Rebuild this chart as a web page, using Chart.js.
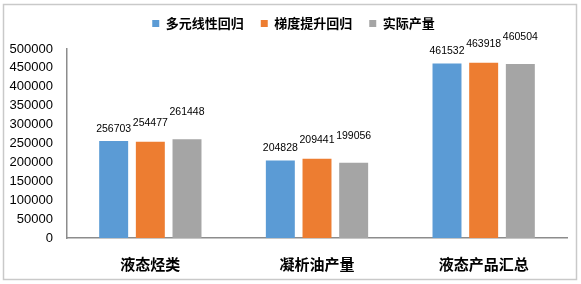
<!DOCTYPE html>
<html>
<head>
<meta charset="utf-8">
<script src="https://cdn.jsdelivr.net/npm/chart.js@4/dist/chart.umd.min.js"></script>
<style>
  html, body { margin: 0; padding: 0; background: #fff; }
  #wrap { width: 581px; height: 284px; }
</style>
</head>
<body>
<div id="wrap"><canvas id="prodChart" width="581" height="284"></canvas></div>
<script>
// chart data
const categories = ['液态烃类', '凝析油产量', '液态产品汇总'];
const seriesNames = ['多元线性回归', '梯度提升回归', '实际产量'];
const mlrValues = [256703, 204828, 461532];
const gbrValues = [254477, 209441, 463918];
const actualValues = [261448, 199056, 460504];
const yTicks = [0, 50000, 100000, 150000, 200000, 250000, 300000, 350000, 400000, 450000, 500000];

const colors = ['#5B9BD5', '#ED7D31', '#A5A5A5'];
const cjkFont = '"Noto Sans CJK SC", "Noto Sans", sans-serif';
const numFont = '"Liberation Sans", Arial, sans-serif';

// grey frame round the whole chart
const framePlugin = {
    id: 'frame',
    beforeDraw(chart) {
        const c = chart.ctx;
        c.save();
        c.fillStyle = '#fff';
        c.fillRect(0, 0, chart.width, chart.height);
        c.strokeStyle = '#c9c9c9';
        c.lineWidth = 1.5;
        c.strokeRect(3.5, 4.5, 573, 275);
        c.restore();
    }
};

// extra space under the legend, and legend nudged right a little
const legendTweak = {
    id: 'legendTweak',
    beforeInit(chart) {
        const origFit = chart.legend.fit;
        chart.legend.fit = function () {
            origFit.bind(chart.legend)();
            this.height += 9;
        };
    },
    afterLayout(chart) {
        chart.legend.left += 10;
        chart.legend.right += 10;
    }
};

// value labels above each bar (each series lifted a bit more, like the original)
const valueLabels = {
    id: 'valueLabels',
    afterDatasetsDraw(chart, args, opts) {
        const c = chart.ctx;
        c.save();
        c.font = '10.5px ' + numFont;
        c.fillStyle = '#000';
        c.textAlign = 'center';
        c.textBaseline = 'middle';
        chart.data.datasets.forEach((ds, di) => {
            const meta = chart.getDatasetMeta(di);
            meta.data.forEach((bar, i) => {
                c.fillText(String(ds.data[i]), bar.x, bar.y - opts.lifts[di]);
            });
        });
        c.restore();
    }
};

const ctx = document.getElementById('prodChart').getContext('2d');
const prodChart = new Chart(ctx, {
    type: 'bar',
    data: {
        labels: categories,
        datasets: [mlrValues, gbrValues, actualValues].map((vals, i) => ({
            label: seriesNames[i],
            data: vals,
            backgroundColor: colors[i],
            borderWidth: 0,
            categoryPercentage: 0.66,
            barPercentage: 0.79
        }))
    },
    options: {
        responsive: false,
        animation: false,
        layout: { padding: { top: 0, left: 0, right: 14, bottom: 0 } },
        plugins: {
            legend: {
                position: 'top',
                labels: {
                    boxWidth: 7,
                    boxHeight: 7,
                    padding: 17,
                    color: '#000',
                    font: { family: cjkFont, size: 13, weight: 'bold' }
                }
            },
            tooltip: { enabled: false },
            valueLabels: { lifts: [12, 19, 27] }
        },
        scales: {
            x: {
                grid: { display: false, drawTicks: false },
                border: { display: true, color: '#8c8c8c', width: 1.5 },
                ticks: {
                    padding: 17,
                    color: '#000',
                    font: { family: cjkFont, size: 15, weight: 'bold' }
                },
                afterFit(scale) { scale.height = 46; }
            },
            y: {
                min: 0,
                max: 500000,
                grid: { display: false, drawTicks: false },
                border: { display: true, color: '#8c8c8c', width: 1.5 },
                afterBuildTicks(scale) { scale.ticks = yTicks.map(v => ({ value: v })); },
                ticks: {
                    padding: 14,
                    color: '#000',
                    font: { family: numFont, size: 13 },
                    callback: (v) => String(v)
                },
                afterFit(scale) { scale.width = 67; }
            }
        }
    },
    plugins: [framePlugin, legendTweak, valueLabels]
});
</script>
</body>
</html>
